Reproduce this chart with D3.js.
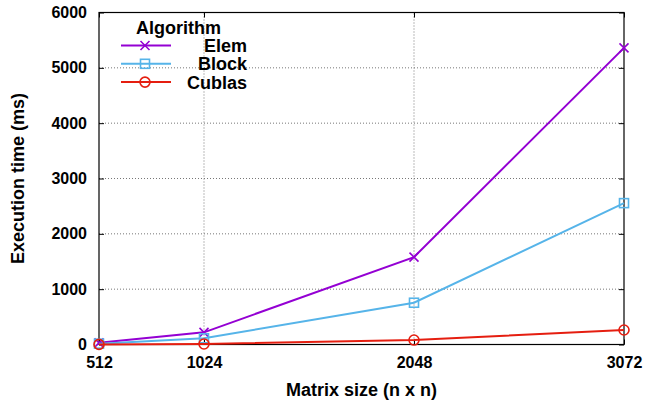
<!DOCTYPE html>
<html>
<head>
<meta charset="utf-8">
<script src="https://cdn.jsdelivr.net/npm/d3@7"></script>
<style>
  body { margin: 0; background: #fff; }
  text { font-family: "Liberation Sans", Arial, sans-serif; font-weight: bold; }
</style>
</head>
<body>
<div class="canvas"></div>
<script>
// matrix sizes on the x axis
const sizes = [512, 1024, 2048, 3072];
const yTicks = [0, 1000, 2000, 3000, 4000, 5000, 6000];

// execution time in ms
const elem = [30, 220, 1580, 5360];
const block = [15, 112, 755, 2555];
const cublas = [2, 10, 80, 262];

const seriesNames = ['Elem', 'Block', 'Cublas'];
const seriesColors = ['#9400d3', '#56b4e9', '#e51e10'];
const seriesMarks = ['cross', 'square', 'circle'];

const series = [elem, block, cublas].map((vals, i) => ({
    name: seriesNames[i],
    color: seriesColors[i],
    mark: seriesMarks[i],
    points: vals.map((v, j) => ({ x: sizes[j], y: v }))
}));

const width = 645, height = 405;
const margin = { top: 12.5, right: 21, bottom: 60.5, left: 99 };

const svg = d3.select('.canvas')
    .append('svg')
    .attr('width', width)
    .attr('height', height);

const x = d3.scaleLinear()
    .domain([512, 3072])
    .range([margin.left, width - margin.right]);

const y = d3.scaleLinear()
    .domain([0, 6000])
    .range([height - margin.bottom, margin.top]);

// dotted grid
const grid = svg.append('g');
grid.selectAll('line.gy')
    .data(yTicks.slice(1, -1))
    .enter()
    .append('line')
    .attr('x1', x.range()[0]).attr('x2', x.range()[1])
    .attr('y1', d => y(d)).attr('y2', d => y(d))
    .attr('stroke', '#777').attr('stroke-width', 1)
    .attr('stroke-dasharray', '1,2');
grid.selectAll('line.gx')
    .data(sizes.slice(1, -1))
    .enter()
    .append('line')
    .attr('x1', d => x(d)).attr('x2', d => x(d))
    .attr('y1', y.range()[0]).attr('y2', y.range()[1])
    .attr('stroke', '#777').attr('stroke-width', 1)
    .attr('stroke-dasharray', '1,2');

// axes: ticks pointing inward, labels outside
svg.append('g')
    .attr('transform', `translate(0, ${y(0)})`)
    .call(d3.axisBottom(x).tickValues(sizes).tickSize(-5).tickPadding(12).tickFormat(d3.format('d')));
svg.append('g')
    .attr('transform', `translate(${x(512)}, 0)`)
    .call(d3.axisLeft(y).tickValues(yTicks).tickSize(-5).tickPadding(12).tickFormat(d3.format('d')));
// mirror ticks on top and right
svg.append('g')
    .attr('transform', `translate(0, ${y(6000)})`)
    .call(d3.axisTop(x).tickValues(sizes).tickSize(-5).tickFormat(''));
svg.append('g')
    .attr('transform', `translate(${x(3072)}, 0)`)
    .call(d3.axisRight(y).tickValues(yTicks).tickSize(-5).tickFormat(''));

svg.selectAll('.domain').remove();
svg.selectAll('.tick line').attr('stroke', '#000');
svg.selectAll('.tick text')
    .attr('fill', '#000')
    .style('font-size', '16px')
    .style('font-family', '"Liberation Sans", Arial, sans-serif')
    .style('font-weight', 'bold');

// frame
svg.append('rect')
    .attr('x', x(512)).attr('y', y(6000))
    .attr('width', x(3072) - x(512)).attr('height', y(0) - y(6000))
    .attr('fill', 'none').attr('stroke', '#000').attr('stroke-width', 1.2);

// axis titles
svg.append('text')
    .attr('x', (x(512) + x(3072)) / 2)
    .attr('y', 396)
    .attr('text-anchor', 'middle')
    .style('font-size', '18px')
    .text('Matrix size (n x n)');

svg.append('text')
    .attr('transform', `translate(24, ${(y(0) + y(6000)) / 2}) rotate(-90)`)
    .attr('text-anchor', 'middle')
    .style('font-size', '18px')
    .text('Execution time (ms)');

// marker drawing helper
function drawMark(g, kind, color) {
    if (kind === 'cross') {
        g.append('path').attr('d', 'M-4.5,-4.5L4.5,4.5M-4.5,4.5L4.5,-4.5')
            .attr('stroke', color).attr('stroke-width', 1.6).attr('fill', 'none');
    } else if (kind === 'square') {
        g.append('rect').attr('x', -4.5).attr('y', -4.5).attr('width', 9).attr('height', 9)
            .attr('stroke', color).attr('stroke-width', 1.6).attr('fill', 'none');
    } else {
        g.append('circle').attr('r', 5)
            .attr('stroke', color).attr('stroke-width', 1.6).attr('fill', 'none');
    }
}

const line = d3.line().x(d => x(d.x)).y(d => y(d.y));

// lines + markers
series.forEach(s => {
    svg.append('path')
        .datum(s.points)
        .attr('d', line)
        .attr('fill', 'none')
        .attr('stroke', s.color)
        .attr('stroke-width', 2);
    s.points.forEach(p => {
        const g = svg.append('g').attr('transform', `translate(${x(p.x)}, ${y(p.y)})`);
        drawMark(g, s.mark, s.color);
    });
});

// legend
const legend = svg.append('g');
legend.append('text')
    .attr('x', 178.5).attr('y', 33.7)
    .attr('text-anchor', 'middle')
    .style('font-size', '18px')
    .text('Algorithm');

series.forEach((s, i) => {
    const ly = 45.5 + i * 18.3;
    legend.append('line')
        .attr('x1', 121).attr('x2', 171)
        .attr('y1', ly).attr('y2', ly)
        .attr('stroke', s.color).attr('stroke-width', 2);
    drawMark(legend.append('g').attr('transform', `translate(145, ${ly})`), s.mark, s.color);
    legend.append('text')
        .attr('x', 247).attr('y', ly + 6.5)
        .attr('text-anchor', 'end')
        .style('font-size', '18px')
        .text(s.name);
});
</script>
</body>
</html>
